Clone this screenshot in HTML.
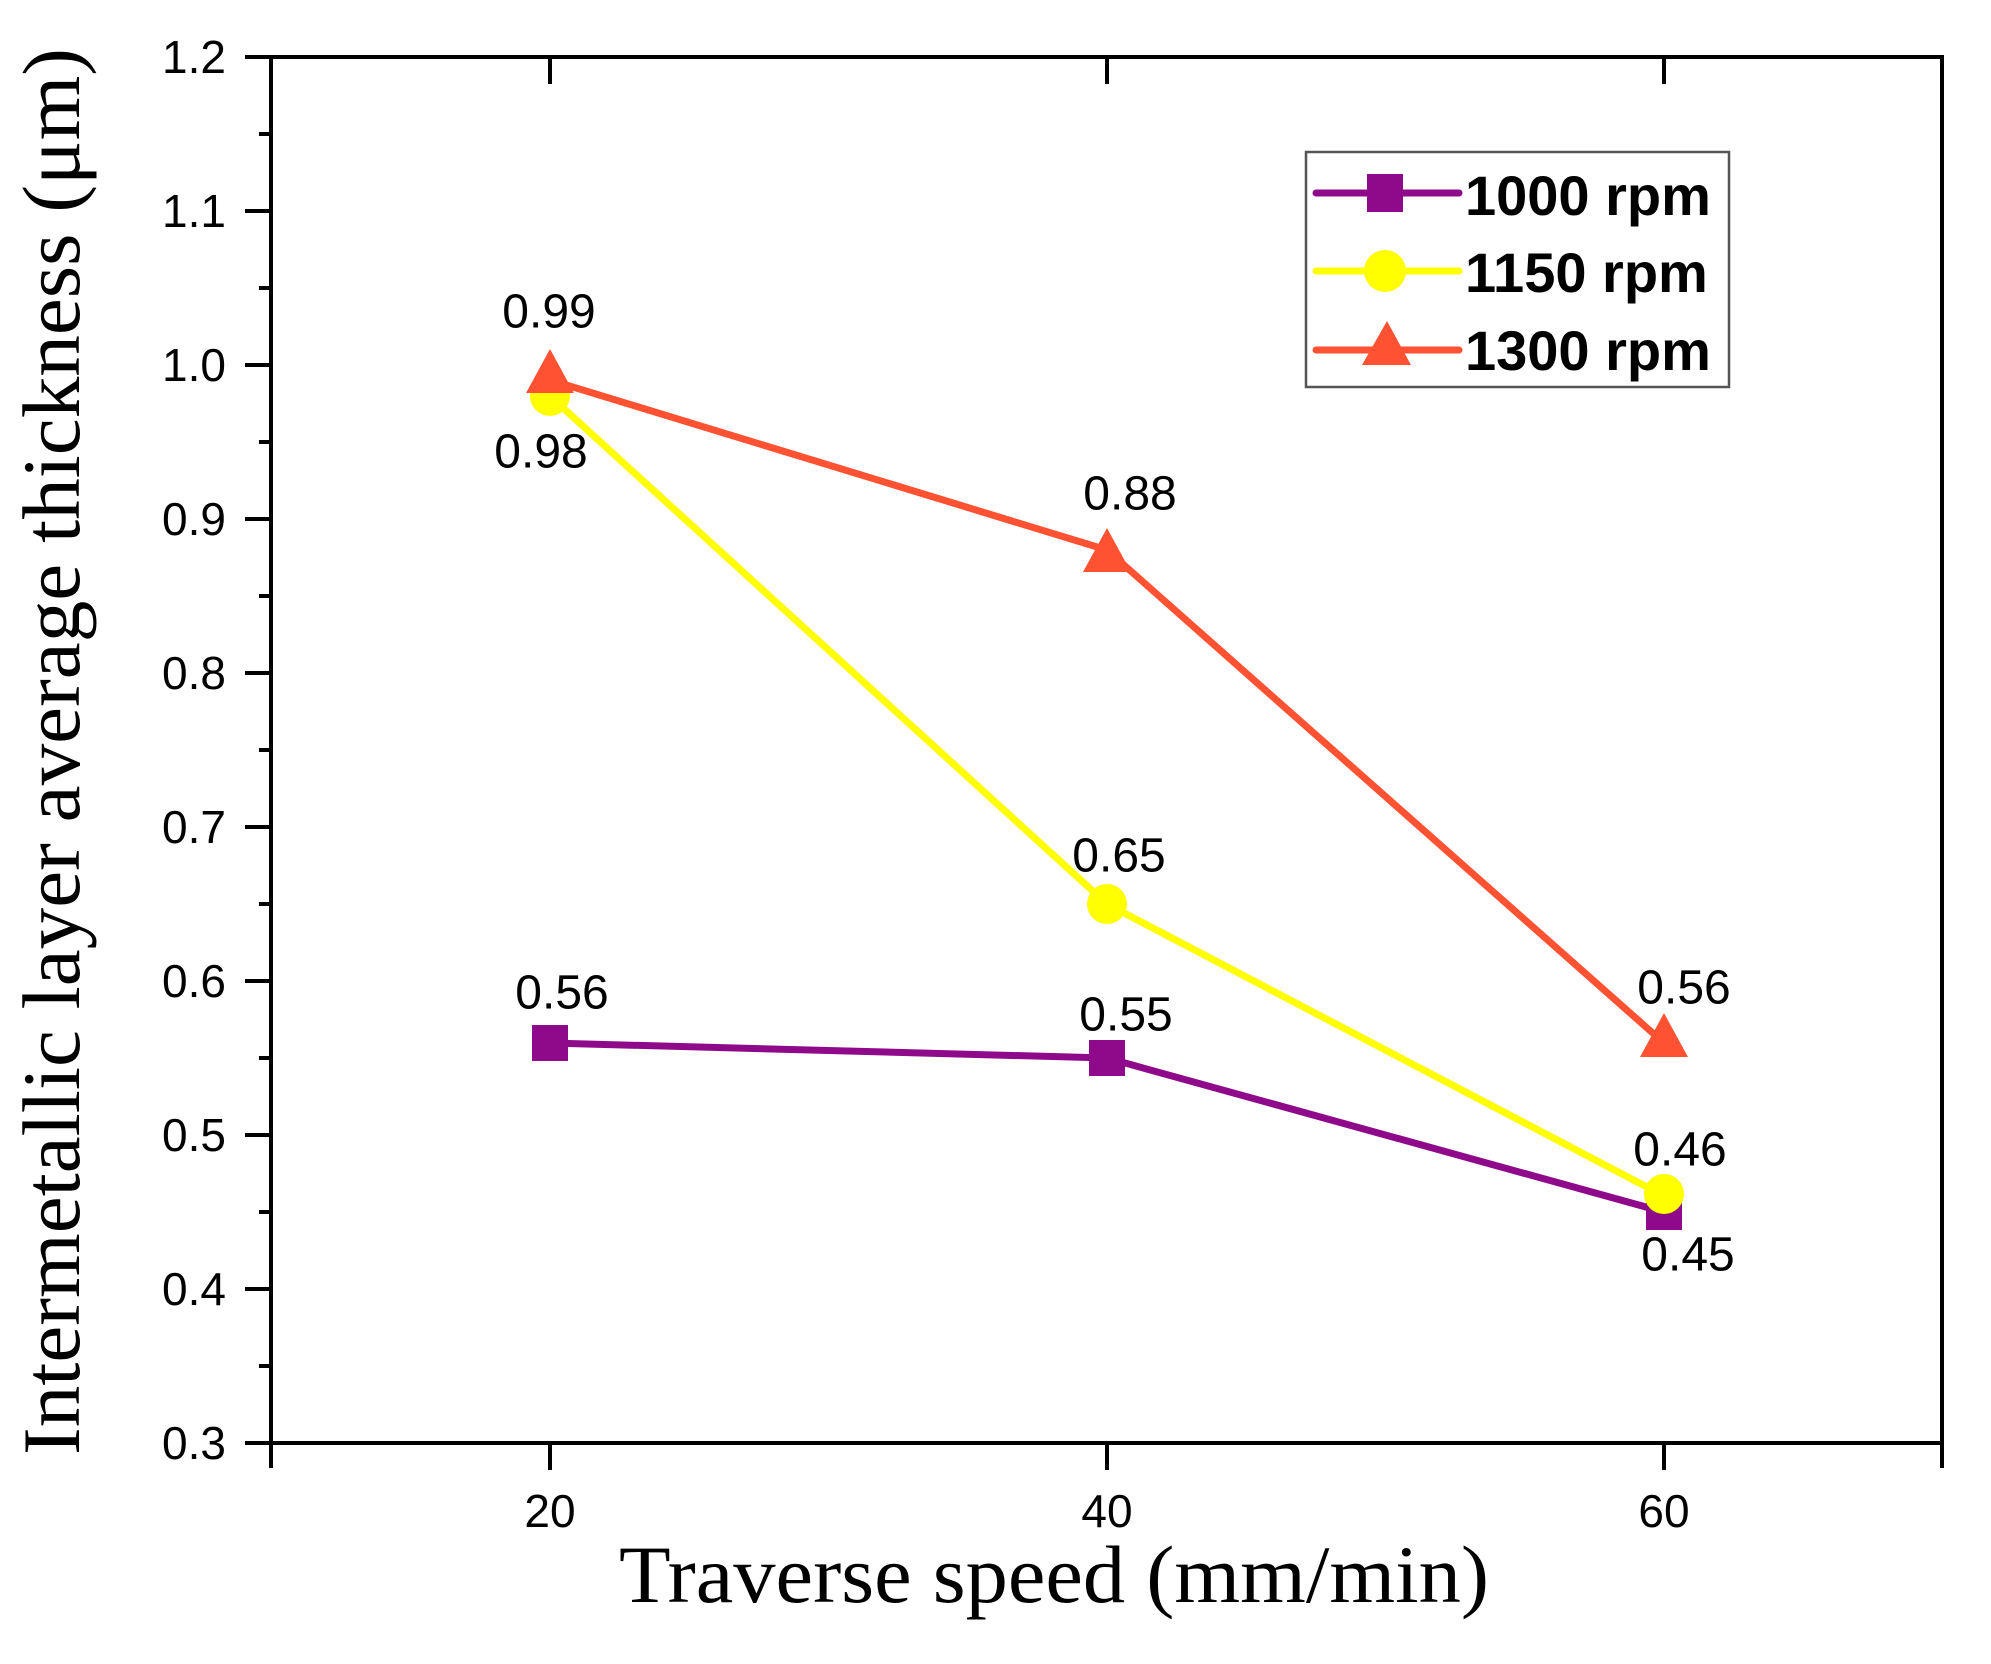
<!DOCTYPE html>
<html><head><style>html,body{margin:0;padding:0;background:#fff}</style></head><body>
<svg width="1991" height="1659" viewBox="0 0 1991 1659" xmlns="http://www.w3.org/2000/svg">
<rect width="1991" height="1659" fill="#fff"/>
<g stroke="#000" stroke-width="4" fill="none">
<rect x="271" y="57" width="1671" height="1386"/>
<path d="M245 57H271M245 211H271M245 365H271M245 519H271M245 673H271M245 827H271M245 981H271M245 1135H271M245 1289H271M245 1443H271"/>
<path d="M259 134H271M259 288H271M259 442H271M259 596H271M259 750H271M259 904H271M259 1058H271M259 1212H271M259 1366H271"/>
<path d="M550 1443V1470M1107 1443V1470M1664 1443V1470M1942 1443V1468M271 1443V1468"/>
<path d="M550 57V84M1107 57V84M1664 57V84"/>
</g>
<g font-family="Liberation Sans, Arial, sans-serif" font-size="46" fill="#000" text-anchor="end">
<text x="226" y="73">1.2</text><text x="226" y="227">1.1</text><text x="226" y="381">1.0</text>
<text x="226" y="535">0.9</text><text x="226" y="689">0.8</text><text x="226" y="843">0.7</text>
<text x="226" y="997">0.6</text><text x="226" y="1151">0.5</text><text x="226" y="1305">0.4</text>
<text x="226" y="1459">0.3</text>
</g>
<g font-family="Liberation Sans, Arial, sans-serif" font-size="46" fill="#000" text-anchor="middle">
<text x="550" y="1527">20</text><text x="1107" y="1527">40</text><text x="1664" y="1527">60</text>
</g>
<text x="619" y="1602" font-family="Liberation Serif, serif" font-size="82" textLength="870" lengthAdjust="spacingAndGlyphs">Traverse speed (mm/min)</text>
<text transform="translate(79,1455) rotate(-90)" font-family="Liberation Serif, serif" font-size="82" textLength="1407" lengthAdjust="spacingAndGlyphs">Intermetallic layer average thickness (μm)</text>
<g stroke-width="7" fill="none" stroke-linejoin="round">
<polyline points="550,1043 1107,1058 1664,1212" stroke="#8e0a8a"/>
<polyline points="550,396 1107,904 1664,1196" stroke="#ffff00"/>
<polyline points="550,380 1107,550 1664,1043" stroke="#ff5233"/>
</g>
<g fill="#8e0a8a">
<rect x="532" y="1025" width="36" height="36"/><rect x="1089" y="1040" width="36" height="36"/><rect x="1646" y="1194" width="36" height="36"/>
</g>
<g fill="#ffff00">
<circle cx="550" cy="396" r="20"/><circle cx="1107" cy="904" r="20"/><circle cx="1664" cy="1194" r="20"/>
</g>
<g fill="#ff5233">
<polygon points="550,349 574,393 526,393"/><polygon points="1107,528 1131,572 1083,572"/><polygon points="1664,1013 1688,1057 1640,1057"/>
</g>
<g font-family="Liberation Sans, Arial, sans-serif" font-size="48" fill="#000" text-anchor="middle" dominant-baseline="central">
<text x="549" y="312">0.99</text><text x="541" y="452">0.98</text>
<text x="1130" y="494">0.88</text><text x="1119" y="856">0.65</text>
<text x="562" y="993">0.56</text><text x="1126" y="1015">0.55</text>
<text x="1684" y="988">0.56</text><text x="1680" y="1150">0.46</text><text x="1688" y="1255">0.45</text>
</g>
<rect x="1306" y="152" width="423" height="235" fill="#fff" stroke="#555" stroke-width="2.5"/>
<g stroke-width="7" stroke-linecap="round">
<line x1="1316" y1="193" x2="1459" y2="193" stroke="#8e0a8a"/>
<line x1="1316" y1="271" x2="1459" y2="271" stroke="#ffff00"/>
<line x1="1316" y1="350" x2="1459" y2="350" stroke="#ff5233"/>
</g>
<rect x="1367" y="174" width="36" height="38" fill="#8e0a8a"/>
<circle cx="1385" cy="271" r="21" fill="#ffff00"/>
<polygon points="1387,321 1411,365 1362,365" fill="#ff5233"/>
<g font-family="Liberation Sans, Arial, sans-serif" font-size="56" font-weight="bold" fill="#000">
<text x="1465" y="215">1000 rpm</text>
<text x="1465" y="292">1150 rpm</text>
<text x="1465" y="370">1300 rpm</text>
</g>
</svg>
</body></html>
